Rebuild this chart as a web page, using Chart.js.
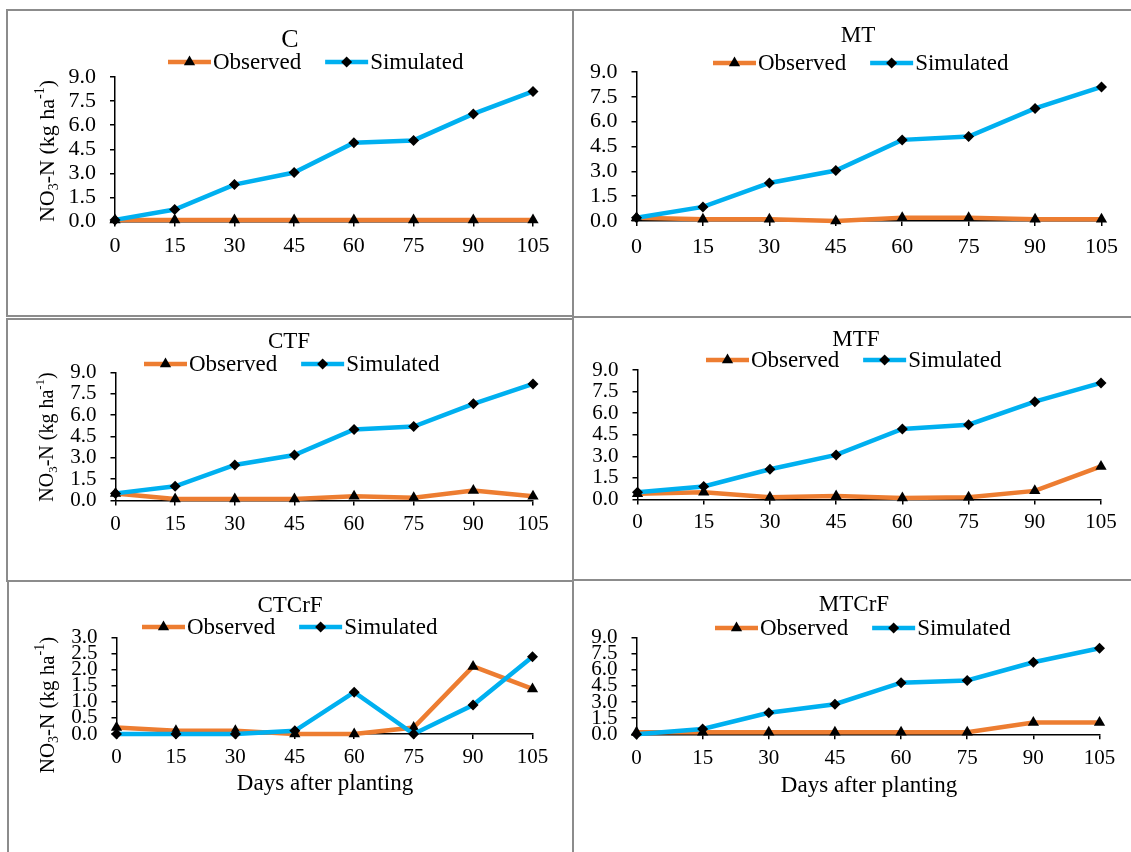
<!DOCTYPE html>
<html>
<head>
<meta charset="utf-8">
<title>NO3-N observed vs simulated</title>
<script src="https://cdn.jsdelivr.net/npm/chart.js@4.4.1/dist/chart.umd.min.js"></script>
<style>
  body { margin: 0; width: 1131px; height: 852px; overflow: hidden; background: #fff; position: relative; }
  .rule { position: absolute; background: #8c8c8c; }
  canvas { position: absolute; }
</style>
</head>
<body>
<script>
// sampling days (x axis)
const days = [0, 15, 30, 45, 60, 75, 90, 105];

// NO3-N, kg/ha
const cObserved      = [0.1, 0.1, 0.1, 0.1, 0.1, 0.1, 0.1, 0.1];
const cSimulated     = [0.1, 0.75, 2.3, 3.05, 4.9, 5.05, 6.7, 8.1];
const mtObserved     = [0.2, 0.1, 0.1, 0.0, 0.2, 0.2, 0.1, 0.1];
const mtSimulated    = [0.2, 0.85, 2.3, 3.05, 4.9, 5.1, 6.8, 8.1];
const ctfObserved    = [0.5, 0.1, 0.1, 0.1, 0.3, 0.2, 0.7, 0.3];
const ctfSimulated   = [0.5, 1.0, 2.5, 3.2, 5.0, 5.2, 6.8, 8.2];
const mtfObserved    = [0.4, 0.5, 0.15, 0.25, 0.1, 0.15, 0.6, 2.3];
const mtfSimulated   = [0.5, 0.9, 2.1, 3.1, 4.9, 5.2, 6.8, 8.1];
const ctcrfObserved  = [0.2, 0.1, 0.1, 0.0, 0.0, 0.2, 2.1, 1.4];
const ctcrfSimulated = [0.0, 0.0, 0.0, 0.1, 1.3, 0.0, 0.9, 2.4];
const mtcrfObserved  = [0.2, 0.2, 0.2, 0.2, 0.2, 0.2, 1.1, 1.1];
const mtcrfSimulated = [0.0, 0.5, 2.0, 2.8, 4.8, 5.0, 6.7, 8.0];

const seriesNames = ['Observed', 'Simulated'];
const yTitle = ['NO', '3', '-N (kg ha', '-1', ')'];
const xTitle = 'Days after planting';

const ORANGE = '#ED7D31';
const BLUE = '#00B0F0';
const SERIF = '"Liberation Serif", "Times New Roman", serif';

// frame lines between the six panels
const rules = [
  [6, 9, 1125, 2], [6, 315, 567, 2], [6, 318, 567, 2], [573, 316, 558, 2],
  [6, 580, 567, 2], [573, 579, 558, 2],
  [6, 9, 2, 308], [6, 318, 2, 263], [7, 580, 2, 272], [572, 9, 2, 843]
];
rules.forEach(([l, t, w, h]) => {
  const d = document.createElement('div');
  d.className = 'rule';
  Object.assign(d.style, { left: l + 'px', top: t + 'px', width: w + 'px', height: h + 'px' });
  document.body.appendChild(d);
});

// page layout of each panel: canvas box, plot area and text anchors
const panels = [
  { title: 'C', obs: cObserved, sim: cSimulated, yMax: 9, yStep: 1.5,
    box: [8, 11, 565, 304], plot: [115, 533, 77, 221.5],
    titleAt: [290, 40], titleSize: 26, legendAt: [168, 62], legendSize: 23,
    tickSize: 22, xPad: 7, yTitleAt: [48, 151], yTitleSize: 22 },
  { title: 'MT', obs: mtObserved, sim: mtSimulated, yMax: 9, yStep: 1.5,
    box: [575, 11, 556, 305], plot: [636.5, 1101.5, 72, 221],
    titleAt: [858, 36], titleSize: 23, legendAt: [713, 63], legendSize: 23,
    tickSize: 22, xPad: 8 },
  { title: 'CTF', obs: ctfObserved, sim: ctfSimulated, yMax: 9, yStep: 1.5,
    box: [8, 320, 565, 260], plot: [115.5, 533, 372.5, 500.5],
    titleAt: [289, 342], titleSize: 23, legendAt: [144, 364], legendSize: 23,
    tickSize: 21, xPad: 6, yTitleAt: [48, 437], yTitleSize: 20 },
  { title: 'MTF', obs: mtfObserved, sim: mtfSimulated, yMax: 9, yStep: 1.5,
    box: [575, 318, 556, 261], plot: [637.5, 1101, 370, 499.5],
    titleAt: [856, 340], titleSize: 23, legendAt: [706, 360], legendSize: 23,
    tickSize: 21, xPad: 5 },
  { title: 'CTCrF', obs: ctcrfObserved, sim: ctcrfSimulated, yMax: 3, yStep: 0.5,
    box: [9, 582, 564, 270], plot: [116.5, 532.5, 637.5, 734],
    titleAt: [290, 606], titleSize: 23, legendAt: [142, 627], legendSize: 23,
    tickSize: 21, xPad: 6, yTitleAt: [48, 705], yTitleSize: 21, xTitleAt: [325, 784] },
  { title: 'MTCrF', obs: mtcrfObserved, sim: mtcrfSimulated, yMax: 9, yStep: 1.5,
    box: [575, 581, 556, 271], plot: [636.5, 1099.5, 637.5, 734.3],
    titleAt: [854, 605], titleSize: 23, legendAt: [715, 628], legendSize: 23,
    tickSize: 21, xPad: 7, xTitleAt: [869, 786] }
];

function marker(ctx, style, r, x, y) {
  ctx.beginPath();
  if (style === 'triangle') {
    for (let k = 0; k < 3; k++) {
      const a = k * 2 * Math.PI / 3;
      const px = x + Math.sin(a) * r, py = y - Math.cos(a) * r;
      k ? ctx.lineTo(px, py) : ctx.moveTo(px, py);
    }
  } else {
    ctx.moveTo(x, y - r); ctx.lineTo(x + r, y); ctx.lineTo(x, y + r); ctx.lineTo(x - r, y);
  }
  ctx.closePath();
  ctx.fillStyle = '#000';
  ctx.fill();
}

// title, line+marker legend and axis titles
const panelText = {
  id: 'panelText',
  afterDraw(chart, args, p) {
    const ctx = chart.ctx;
    const [cl, ct] = p.box;
    ctx.save();
    ctx.translate(-cl, -ct);
    ctx.fillStyle = '#000';
    ctx.textBaseline = 'middle';

    ctx.font = p.titleSize + 'px ' + SERIF;
    ctx.textAlign = 'center';
    ctx.fillText(p.title, p.titleAt[0], p.titleAt[1]);

    ctx.font = p.legendSize + 'px ' + SERIF;
    ctx.textAlign = 'left';
    let lx = p.legendAt[0];
    const ly = p.legendAt[1];
    chart.data.datasets.forEach(ds => {
      ctx.strokeStyle = ds.borderColor;
      ctx.lineWidth = ds.borderWidth;
      ctx.beginPath(); ctx.moveTo(lx, ly); ctx.lineTo(lx + 43, ly); ctx.stroke();
      marker(ctx, ds.pointStyle, ds.pointRadius, lx + 21.5, ly);
      ctx.fillStyle = '#000';
      ctx.fillText(ds.label, lx + 45, ly + 1);
      lx += 45 + ctx.measureText(ds.label).width + 24;
    });

    if (p.yTitleAt) {
      const f = p.yTitleSize, s = Math.round(f * 0.65);
      const parts = [[yTitle[0], f, 0], [yTitle[1], s, 0.3 * f], [yTitle[2], f, 0],
                     [yTitle[3], s, -0.35 * f], [yTitle[4], f, 0]];
      let total = 0;
      parts.forEach(([t, size]) => { ctx.font = size + 'px ' + SERIF; total += ctx.measureText(t).width; });
      ctx.translate(p.yTitleAt[0], p.yTitleAt[1]);
      ctx.rotate(-Math.PI / 2);
      let tx = -total / 2;
      parts.forEach(([t, size, dy]) => {
        ctx.font = size + 'px ' + SERIF;
        ctx.fillText(t, tx, dy);
        tx += ctx.measureText(t).width;
      });
      ctx.setTransform(1, 0, 0, 1, 0, 0);
      ctx.translate(-cl, -ct);
    }

    if (p.xTitleAt) {
      ctx.font = '23px ' + SERIF;
      ctx.textAlign = 'center';
      ctx.fillText(xTitle, p.xTitleAt[0], p.xTitleAt[1]);
    }
    ctx.restore();
  }
};

function makeChart(p) {
  const [cl, ct, cw, ch] = p.box;
  const [x0, x1, yTop, yBot] = p.plot;
  const yw = 60, xh = 40;
  const cv = document.createElement('canvas');
  cv.width = cw; cv.height = ch;
  Object.assign(cv.style, { left: cl + 'px', top: ct + 'px', width: cw + 'px', height: ch + 'px' });
  document.body.appendChild(cv);

  const axisGrid = { display: true, drawOnChartArea: false, tickLength: 5, color: '#000', lineWidth: 1.5 };
  const tickFont = { family: SERIF, size: p.tickSize };

  new Chart(cv, {
    type: 'line',
    data: {
      labels: days,
      datasets: [
        { label: seriesNames[0], data: p.obs, borderColor: ORANGE, borderWidth: 4.5,
          pointStyle: 'triangle', pointRadius: 6.5, pointBackgroundColor: '#000',
          pointBorderWidth: 0, order: 1, clip: false },
        { label: seriesNames[1], data: p.sim, borderColor: BLUE, borderWidth: 4.5,
          pointStyle: 'rectRot', pointRadius: 5.5, pointBackgroundColor: '#000',
          pointBorderWidth: 0, order: 0, clip: false }
      ]
    },
    options: {
      responsive: false,
      animation: false,
      devicePixelRatio: 1,
      layout: { padding: { left: x0 - cl - yw, right: cl + cw - x1, top: yTop - ct, bottom: ct + ch - yBot - xh } },
      plugins: { legend: { display: false }, tooltip: { enabled: false }, panelText: p },
      scales: {
        x: {
          offset: false,
          grid: axisGrid,
          border: { color: '#000', width: 1.5 },
          ticks: { autoSkip: false, maxRotation: 0, padding: p.xPad, color: '#000', font: tickFont },
          afterFit(s) { s.height = xh; }
        },
        y: {
          min: 0, max: p.yMax,
          grid: axisGrid,
          border: { color: '#000', width: 1.5 },
          ticks: { stepSize: p.yStep, autoSkip: false, padding: 14, color: '#000', font: tickFont,
                   callback: v => v.toFixed(1) },
          afterFit(s) { s.width = yw; }
        }
      }
    },
    plugins: [panelText]
  });
}

panels.forEach(makeChart);
</script>
</body>
</html>
